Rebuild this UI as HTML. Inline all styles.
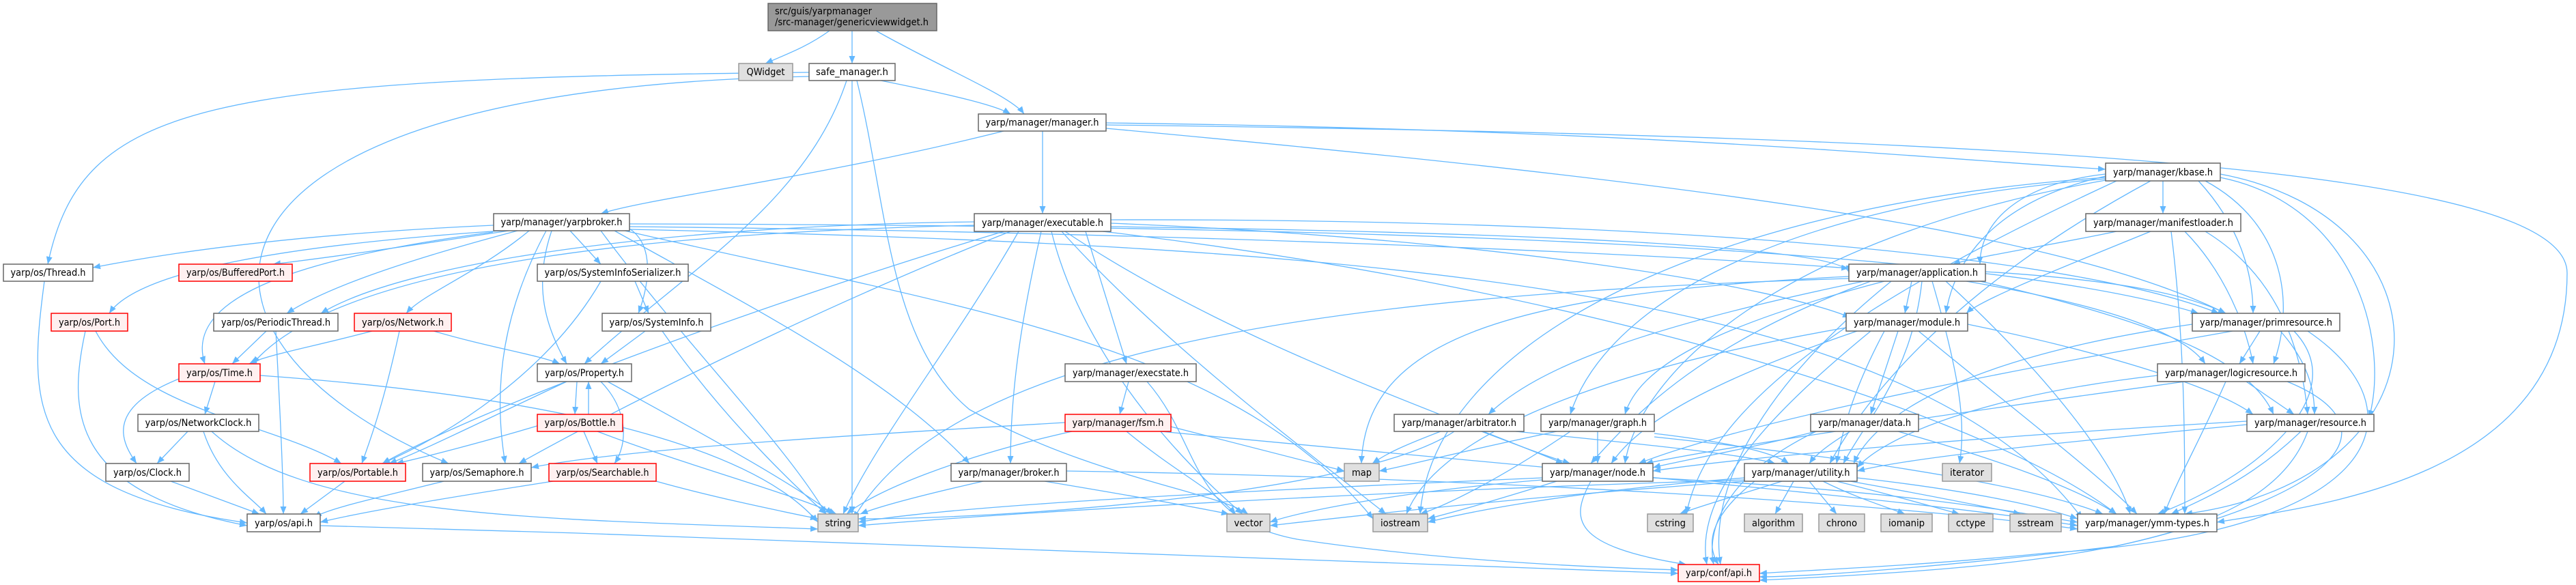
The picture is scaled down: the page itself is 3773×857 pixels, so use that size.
<!DOCTYPE html>
<html><head><meta charset="utf-8">
<style>
html,body{margin:0;padding:0;background:#fff;}
svg{display:block}
.e{fill:none;stroke:#63b8ff;stroke-width:1.3;marker-end:url(#a)}
.n{fill:#fff;stroke:#666;stroke-width:1.5}
.r{fill:#fff0f0;stroke:#f00;stroke-width:1.5}
.g{fill:#e0e0e0;stroke:#999;stroke-width:1.5}
text{font-family:"DejaVu Sans","Liberation Sans",sans-serif;font-size:14px;fill:#000;text-anchor:middle}
</style></head><body>
<svg width="3773" height="857" viewBox="0 0 3773 857" xmlns="http://www.w3.org/2000/svg">
<defs><marker id="a" markerUnits="userSpaceOnUse" markerWidth="12" markerHeight="10" refX="11" refY="4.5" orient="auto"><path d="M0,0 L11,4.5 L0,9 z" fill="#63b8ff"/></marker></defs>
<g>
<!-- root -->
<path class="e" d="M1215,45 C1180,70 1150,80 1121,93"/>
<path class="e" d="M1248,45 L1248,93"/>
<path class="e" d="M1283,45 C1380,100 1480,140 1500,167"/>
<!-- safe_manager -->
<path class="e" d="M1290,118 C1400,140 1460,155 1480,167"/>
<path class="e" d="M1185,106 C300,115 120,150 70,387"/>
<path class="e" d="M1185,112 C224,130 224,500 657,679"/>
<path class="e" d="M1240,118 C1180,300 1000,400 856,533"/>
<path class="e" d="M1248,118 L1248,753"/>
<path class="e" d="M1255,118 C1300,300 1300,500 1420,600 C1600,700 1780,720 1828,753"/>
<!-- manager -->
<path class="e" d="M1470,192 C1200,260 950,290 880,313"/>
<path class="e" d="M1527,192 L1527,313"/>
<path class="e" d="M1620,180 C2400,190 2800,230 3084,248"/>
<path class="e" d="M1620,183 C3000,200 3760,250 3760,400 C3760,700 3400,740 3247,765"/>
<path class="e" d="M1620,188 C2400,260 3000,330 3260,459"/>
<!-- yarpbroker -->
<path class="e" d="M723,330 C500,340 300,360 136,392"/>
<path class="e" d="M745,338 C600,360 500,375 400,387"/>
<path class="e" d="M735,338 C400,360 200,400 160,459"/>
<path class="e" d="M758,338 C600,380 480,420 420,459"/>
<path class="e" d="M775,338 C700,400 620,430 595,459"/>
<path class="e" d="M722,340 C420,380 270,440 300,533"/>
<path class="e" d="M835,338 L880,387"/>
<path class="e" d="M922,335 C960,360 950,420 935,459"/>
<path class="e" d="M808,338 C780,420 800,480 830,533"/>
<path class="e" d="M800,338 C740,450 720,560 740,679"/>
<path class="e" d="M880,338 C1000,500 1150,650 1210,753"/>
<path class="e" d="M900,338 C1100,450 1300,550 1420,679"/>
<path class="e" d="M922,332 C1700,340 2400,370 2708,393"/>
<path class="e" d="M922,328 C2000,330 2900,360 3220,459"/>
<path class="e" d="M915,338 C1400,450 1800,500 2011,760"/>
<path class="e" d="M922,336 C2000,360 2800,420 3050,760"/>
<!-- executable -->
<path class="e" d="M1590,339 L1650,533"/>
<path class="e" d="M1525,339 C1500,450 1480,560 1480,679"/>
<path class="e" d="M1627,327 C2200,350 2600,420 2710,465"/>
<path class="e" d="M1492,339 C1400,500 1280,650 1235,753"/>
<path class="e" d="M1540,339 C1580,500 1700,650 1820,753"/>
<path class="e" d="M1555,339 C1700,500 1900,650 2030,753"/>
<path class="e" d="M1627,322 C2300,320 3000,360 3250,459"/>
<path class="e" d="M1615,339 C2300,420 2900,600 3100,753"/>
<path class="e" d="M1427,330 C1000,340 500,380 370,533"/>
<path class="e" d="M1427,325 C1000,330 600,380 470,459"/>
<path class="e" d="M1480,339 C1200,450 900,600 760,679"/>
<path class="e" d="M1470,339 C1100,450 700,600 560,679"/>
<path class="e" d="M1627,332 C2200,340 2708,360 2708,400"/>
<path class="e" d="M1560,339 C1800,500 2100,600 2290,679"/>
<!-- kbase -->
<path class="e" d="M3168,265 L3168,313"/>
<path class="e" d="M3084,255 C2950,270 2900,330 2900,387"/>
<path class="e" d="M3084,258 C2900,300 2860,400 2850,459"/>
<path class="e" d="M3220,265 C3280,330 3300,400 3300,459"/>
<path class="e" d="M3230,265 C3350,330 3360,450 3330,533"/>
<path class="e" d="M3252,260 C3450,300 3500,500 3470,612"/>
<path class="e" d="M3084,262 C2600,300 2350,450 2300,607"/>
<path class="e" d="M3084,264 C2600,350 2400,550 2380,679"/>
<path class="e" d="M3150,265 C2900,400 2750,550 2680,679"/>
<path class="e" d="M3252,255 C3600,320 3600,700 3200,753"/>
<path class="e" d="M3084,260 C2500,300 2100,500 2080,753"/>
<path class="e" d="M3100,265 C2700,450 2500,600 2470,753"/>
<!-- manifestloader -->
<path class="e" d="M3100,339 C3000,360 2900,375 2860,387"/>
<path class="e" d="M3150,339 C3000,400 2900,440 2880,459"/>
<path class="e" d="M3200,339 C3260,400 3290,480 3300,533"/>
<path class="e" d="M3230,339 C3330,400 3370,500 3380,607"/>
<path class="e" d="M3180,339 C3200,500 3200,650 3200,753"/>
<!-- application -->
<path class="e" d="M2800,412 L2790,459"/>
<path class="e" d="M2730,412 C2400,480 2250,540 2180,607"/>
<path class="e" d="M2760,412 C2500,480 2400,540 2380,607"/>
<path class="e" d="M2740,412 C2500,500 2400,600 2330,679"/>
<path class="e" d="M2815,412 C2800,550 2730,620 2700,679"/>
<path class="e" d="M2708,405 C2200,430 2000,500 1994,679"/>
<path class="e" d="M2850,412 C3000,550 3100,680 3120,753"/>
<path class="e" d="M2908,398 C3100,410 3200,430 3260,459"/>
<path class="e" d="M2880,412 C3100,450 3200,490 3230,533"/>
<path class="e" d="M2900,412 C3200,480 3300,540 3330,607"/>
<path class="e" d="M2770,412 C2600,550 2500,700 2520,827"/>
<path class="e" d="M2708,408 C2000,430 1400,500 1250,760"/>
<path class="e" d="M2830,412 C2870,550 2880,620 2870,679"/>
<!-- module -->
<path class="e" d="M2780,485 L2740,607"/>
<path class="e" d="M2720,485 C2500,560 2400,620 2360,679"/>
<path class="e" d="M2760,485 C2720,560 2700,620 2690,679"/>
<path class="e" d="M2810,485 C2950,600 3080,700 3130,753"/>
<path class="e" d="M2882,475 C3100,520 3250,570 3300,607"/>
<path class="e" d="M2740,485 C2600,600 2480,720 2500,827"/>
<path class="e" d="M2704,480 C2300,550 2100,650 2060,753"/>
<!-- primresource -->
<path class="e" d="M3310,485 L3280,533"/>
<path class="e" d="M3340,485 C3380,530 3390,570 3390,607"/>
<path class="e" d="M3270,485 C2900,550 2550,620 2400,679"/>
<path class="e" d="M3211,475 C2900,520 2750,600 2715,679"/>
<path class="e" d="M3360,485 C3450,580 3300,700 3160,753"/>
<path class="e" d="M3380,485 C3550,600 3500,780 3000,810 C2800,830 2650,835 2577,840"/>
<!-- logicresource -->
<path class="e" d="M3290,559 L3360,607"/>
<path class="e" d="M3200,559 C2900,600 2550,650 2410,679"/>
<path class="e" d="M3160,550 C2900,580 2760,640 2720,685"/>
<path class="e" d="M3260,559 C3220,650 3190,700 3170,753"/>
<path class="e" d="M3350,559 C3500,620 3450,720 3100,800 C2850,830 2650,845 2577,845"/>
<!-- resource -->
<path class="e" d="M3291,617 C2900,640 2550,670 2421,690"/>
<path class="e" d="M3291,622 C3000,650 2800,670 2720,690"/>
<path class="e" d="M3370,632 C3300,700 3230,730 3180,753"/>
<path class="e" d="M3380,632 C3320,800 3000,830 2577,850"/>
<!-- data -->
<path class="e" d="M2660,632 C2550,660 2460,675 2421,685"/>
<path class="e" d="M2710,632 C2680,650 2660,665 2650,679"/>
<path class="e" d="M2780,632 C2950,680 3050,720 3100,753"/>
<path class="e" d="M2660,632 C2520,700 2500,780 2510,827"/>
<!-- arbitrator -->
<path class="e" d="M2170,632 C2230,655 2270,670 2300,679"/>
<path class="e" d="M2220,632 C2400,650 2550,665 2600,679"/>
<path class="e" d="M2110,632 C2050,655 2030,665 2010,679"/>
<path class="e" d="M2130,632 C2000,720 1500,760 1257,760"/>
<!-- graph -->
<path class="e" d="M2340,632 L2340,679"/>
<path class="e" d="M2423,635 C2550,650 2600,665 2620,679"/>
<path class="e" d="M2280,632 C2100,670 2050,685 2020,690"/>
<path class="e" d="M2300,632 C2200,700 2120,740 2080,753"/>
<path class="e" d="M2423,640 C2800,680 3000,720 3080,753"/>
<!-- node -->
<path class="e" d="M2259,700 C1800,720 1400,740 1257,765"/>
<path class="e" d="M2259,703 C2050,720 1900,750 1860,765"/>
<path class="e" d="M2280,705 C2200,730 2130,750 2091,760"/>
<path class="e" d="M2421,700 C2800,720 2950,750 3043,765"/>
<path class="e" d="M2330,705 C2300,760 2300,800 2470,827"/>
<!-- utility -->
<path class="e" d="M2610,705 C2530,730 2480,745 2460,753"/>
<path class="e" d="M2627,705 L2600,753"/>
<path class="e" d="M2650,705 L2690,753"/>
<path class="e" d="M2670,705 C2720,730 2770,745 2790,753"/>
<path class="e" d="M2690,705 C2790,730 2840,745 2870,753"/>
<path class="e" d="M2710,705 C2850,730 2920,745 2960,753"/>
<path class="e" d="M2720,700 C2900,720 3000,745 3043,760"/>
<path class="e" d="M2555,700 C2300,720 2150,750 2091,765"/>
<path class="e" d="M2555,703 C2000,720 1500,750 1257,770"/>
<path class="e" d="M2555,705 C2200,730 1950,760 1860,770"/>
<path class="e" d="M2570,705 C2500,760 2500,800 2517,827"/>
<!-- execstate / fsm -->
<path class="e" d="M1653,559 L1640,607"/>
<path class="e" d="M1680,559 C1760,650 1740,760 1900,790 C2100,820 2300,830 2458,835"/>
<path class="e" d="M1560,619 C1200,640 900,660 778,685"/>
<path class="e" d="M1570,632 C1400,670 1280,720 1240,753"/>
<path class="e" d="M1650,632 C1720,690 1780,720 1810,753"/>
<path class="e" d="M1700,632 C2200,680 2800,730 3043,770"/>
<path class="e" d="M1715,625 C1850,660 1930,680 1969,690"/>
<!-- broker -->
<path class="e" d="M1440,705 C1330,730 1280,745 1260,753"/>
<path class="e" d="M1530,705 C1680,730 1760,745 1800,753"/>
<path class="e" d="M1562,690 C2200,700 2800,740 3043,775"/>
<!-- yarp/os -->
<path class="e" d="M125,485 C100,600 100,720 362,770"/>
<path class="e" d="M140,485 C200,600 400,620 500,679"/>
<path class="e" d="M390,485 L340,533"/>
<path class="e" d="M404,485 C410,600 415,700 415,753"/>
<path class="e" d="M545,485 C450,510 390,520 365,533"/>
<path class="e" d="M585,485 C560,600 540,650 530,679"/>
<path class="e" d="M635,485 C720,510 790,520 820,533"/>
<path class="e" d="M930,412 L950,459"/>
<path class="e" d="M880,412 C800,550 650,640 560,679"/>
<path class="e" d="M945,485 L880,533"/>
<path class="e" d="M970,485 C1050,600 1150,700 1210,753"/>
<path class="e" d="M315,559 L300,607"/>
<path class="e" d="M262,555 C150,600 180,650 200,679"/>
<path class="e" d="M381,550 C800,580 1100,650 1198,765"/>
<path class="e" d="M845,559 L842,607"/>
<path class="e" d="M862,607 L862,559"/>
<path class="e" d="M830,559 C700,620 620,660 570,679"/>
<path class="e" d="M880,559 C920,600 920,650 900,679"/>
<path class="e" d="M890,559 C1000,620 1150,700 1220,753"/>
<path class="e" d="M800,620 C700,650 620,670 580,679"/>
<path class="e" d="M855,632 L875,679"/>
<path class="e" d="M875,632 C1000,680 1150,720 1225,753"/>
<path class="e" d="M275,632 L230,679"/>
<path class="e" d="M298,632 C320,700 370,730 390,753"/>
<path class="e" d="M310,632 C450,760 800,760 1198,775"/>
<path class="e" d="M250,705 L380,753"/>
<path class="e" d="M505,705 L440,753"/>
<path class="e" d="M650,705 C550,730 480,745 460,758"/>
<path class="e" d="M810,705 C650,730 530,750 469,765"/>
<path class="e" d="M961,705 C1050,730 1150,750 1198,760"/>
<path class="e" d="M65,412 C40,600 40,720 362,766"/>
<path class="e" d="M469,770 C1200,790 2000,820 2458,840"/>
</g>
<g>
<rect x="1125" y="5" width="247" height="40" style="fill:#999;stroke:#666;stroke-width:1.5"/>
<text x="1135" y="21" textLength="142" lengthAdjust="spacingAndGlyphs" style="text-anchor:start">src/guis/yarpmanager</text>
<text x="1135" y="37" textLength="225" lengthAdjust="spacingAndGlyphs" style="text-anchor:start">/src-manager/genericviewwidget.h</text>

<rect class="g" x="1082" y="93" width="79" height="25"/><text x="1121.5" y="110" textLength="56" lengthAdjust="spacingAndGlyphs">QWidget</text>
<rect class="n" x="1185" y="93" width="126" height="25"/><text x="1248" y="110" textLength="106" lengthAdjust="spacingAndGlyphs">safe_manager.h</text>
<rect class="n" x="1433" y="167" width="187" height="25"/><text x="1526.5" y="184" textLength="166" lengthAdjust="spacingAndGlyphs">yarp/manager/manager.h</text>
<rect class="n" x="3084" y="239" width="168" height="26"/><text x="3168" y="257" textLength="146" lengthAdjust="spacingAndGlyphs">yarp/manager/kbase.h</text>
<rect class="n" x="723" y="313" width="199" height="25"/><text x="822.5" y="330" textLength="178" lengthAdjust="spacingAndGlyphs">yarp/manager/yarpbroker.h</text>
<rect class="n" x="1427" y="313" width="200" height="26"/><text x="1527" y="331" textLength="178" lengthAdjust="spacingAndGlyphs">yarp/manager/executable.h</text>
<rect class="n" x="3055" y="313" width="227" height="26"/><text x="3168.5" y="331" textLength="205" lengthAdjust="spacingAndGlyphs">yarp/manager/manifestloader.h</text>
<rect class="n" x="5" y="387" width="131" height="25"/><text x="70.5" y="404" textLength="110" lengthAdjust="spacingAndGlyphs">yarp/os/Thread.h</text>
<rect class="r" x="262" y="387" width="166" height="25"/><text x="345" y="404" textLength="144" lengthAdjust="spacingAndGlyphs">yarp/os/BufferedPort.h</text>
<rect class="n" x="787" y="387" width="221" height="25"/><text x="897.5" y="404" textLength="200" lengthAdjust="spacingAndGlyphs">yarp/os/SystemInfoSerializer.h</text>
<rect class="n" x="2708" y="387" width="200" height="25"/><text x="2808" y="404" textLength="178" lengthAdjust="spacingAndGlyphs">yarp/manager/application.h</text>
<rect class="r" x="75" y="459" width="112" height="26"/><text x="131" y="477" textLength="90" lengthAdjust="spacingAndGlyphs">yarp/os/Port.h</text>
<rect class="n" x="313" y="459" width="182" height="26"/><text x="404" y="477" textLength="160" lengthAdjust="spacingAndGlyphs">yarp/os/PeriodicThread.h</text>
<rect class="r" x="519" y="459" width="142" height="26"/><text x="590" y="477" textLength="120" lengthAdjust="spacingAndGlyphs">yarp/os/Network.h</text>
<rect class="n" x="882" y="459" width="159" height="26"/><text x="961.5" y="477" textLength="138" lengthAdjust="spacingAndGlyphs">yarp/os/SystemInfo.h</text>
<rect class="n" x="2704" y="459" width="178" height="26"/><text x="2793" y="477" textLength="156" lengthAdjust="spacingAndGlyphs">yarp/manager/module.h</text>
<rect class="n" x="3211" y="459" width="216" height="26"/><text x="3319" y="477" textLength="194" lengthAdjust="spacingAndGlyphs">yarp/manager/primresource.h</text>
<rect class="r" x="262" y="533" width="119" height="26"/><text x="321.5" y="551" textLength="97" lengthAdjust="spacingAndGlyphs">yarp/os/Time.h</text>
<rect class="n" x="787" y="533" width="138" height="26"/><text x="856" y="551" textLength="116" lengthAdjust="spacingAndGlyphs">yarp/os/Property.h</text>
<rect class="n" x="1560" y="533" width="192" height="26"/><text x="1656" y="551" textLength="170" lengthAdjust="spacingAndGlyphs">yarp/manager/execstate.h</text>
<rect class="n" x="3160" y="533" width="216" height="26"/><text x="3268" y="551" textLength="194" lengthAdjust="spacingAndGlyphs">yarp/manager/logicresource.h</text>
<rect class="n" x="202" y="607" width="177" height="25"/><text x="290.5" y="624" textLength="156" lengthAdjust="spacingAndGlyphs">yarp/os/NetworkClock.h</text>
<rect class="r" x="787" y="607" width="125" height="25"/><text x="849.5" y="624" textLength="104" lengthAdjust="spacingAndGlyphs">yarp/os/Bottle.h</text>
<rect class="r" x="1560" y="607" width="155" height="25"/><text x="1637.5" y="624" textLength="134" lengthAdjust="spacingAndGlyphs">yarp/manager/fsm.h</text>
<rect class="n" x="2042" y="607" width="190" height="25"/><text x="2137" y="624" textLength="168" lengthAdjust="spacingAndGlyphs">yarp/manager/arbitrator.h</text>
<rect class="n" x="2257" y="607" width="166" height="25"/><text x="2340" y="624" textLength="144" lengthAdjust="spacingAndGlyphs">yarp/manager/graph.h</text>
<rect class="n" x="2652" y="607" width="158" height="25"/><text x="2731" y="624" textLength="136" lengthAdjust="spacingAndGlyphs">yarp/manager/data.h</text>
<rect class="n" x="3291" y="607" width="186" height="25"/><text x="3384" y="624" textLength="164" lengthAdjust="spacingAndGlyphs">yarp/manager/resource.h</text>
<rect class="n" x="155" y="679" width="122" height="26"/><text x="216" y="697" textLength="100" lengthAdjust="spacingAndGlyphs">yarp/os/Clock.h</text>
<rect class="r" x="454" y="679" width="140" height="26"/><text x="524" y="697" textLength="118" lengthAdjust="spacingAndGlyphs">yarp/os/Portable.h</text>
<rect class="n" x="619" y="679" width="159" height="26"/><text x="698.5" y="697" textLength="138" lengthAdjust="spacingAndGlyphs">yarp/os/Semaphore.h</text>
<rect class="r" x="804" y="679" width="157" height="26"/><text x="882.5" y="697" textLength="136" lengthAdjust="spacingAndGlyphs">yarp/os/Searchable.h</text>
<rect class="n" x="1393" y="679" width="169" height="26"/><text x="1477.5" y="697" textLength="148" lengthAdjust="spacingAndGlyphs">yarp/manager/broker.h</text>
<rect class="g" x="1969" y="679" width="51" height="26"/><text x="1994.5" y="697" textLength="29" lengthAdjust="spacingAndGlyphs">map</text>
<rect class="n" x="2259" y="679" width="162" height="26"/><text x="2340" y="697" textLength="140" lengthAdjust="spacingAndGlyphs">yarp/manager/node.h</text>
<rect class="n" x="2555" y="679" width="165" height="26"/><text x="2637.5" y="697" textLength="144" lengthAdjust="spacingAndGlyphs">yarp/manager/utility.h</text>
<rect class="g" x="2845" y="679" width="72" height="26"/><text x="2881" y="697" textLength="50" lengthAdjust="spacingAndGlyphs">iterator</text>
<rect class="n" x="362" y="753" width="107" height="26"/><text x="415.5" y="771" textLength="85" lengthAdjust="spacingAndGlyphs">yarp/os/api.h</text>
<rect class="g" x="1198" y="753" width="59" height="26"/><text x="1227.5" y="771" textLength="38" lengthAdjust="spacingAndGlyphs">string</text>
<rect class="g" x="1797" y="753" width="63" height="26"/><text x="1828.5" y="771" textLength="42" lengthAdjust="spacingAndGlyphs">vector</text>
<rect class="g" x="2011" y="753" width="80" height="26"/><text x="2051" y="771" textLength="58" lengthAdjust="spacingAndGlyphs">iostream</text>
<rect class="g" x="2413" y="753" width="67" height="26"/><text x="2446.5" y="771" textLength="45" lengthAdjust="spacingAndGlyphs">cstring</text>
<rect class="g" x="2555" y="753" width="85" height="26"/><text x="2597.5" y="771" textLength="63" lengthAdjust="spacingAndGlyphs">algorithm</text>
<rect class="g" x="2664" y="753" width="67" height="26"/><text x="2697.5" y="771" textLength="45" lengthAdjust="spacingAndGlyphs">chrono</text>
<rect class="g" x="2755" y="753" width="75" height="26"/><text x="2792.5" y="771" textLength="53" lengthAdjust="spacingAndGlyphs">iomanip</text>
<rect class="g" x="2854" y="753" width="65" height="26"/><text x="2886.5" y="771" textLength="43" lengthAdjust="spacingAndGlyphs">cctype</text>
<rect class="g" x="2944" y="753" width="75" height="26"/><text x="2981.5" y="771" textLength="53" lengthAdjust="spacingAndGlyphs">sstream</text>
<rect class="n" x="3043" y="753" width="204" height="26"/><text x="3145" y="771" textLength="182" lengthAdjust="spacingAndGlyphs">yarp/manager/ymm-types.h</text>
<rect class="r" x="2458" y="827" width="119" height="25"/><text x="2517.5" y="844" textLength="97" lengthAdjust="spacingAndGlyphs">yarp/conf/api.h</text>
</g>
</svg>
</body></html>
